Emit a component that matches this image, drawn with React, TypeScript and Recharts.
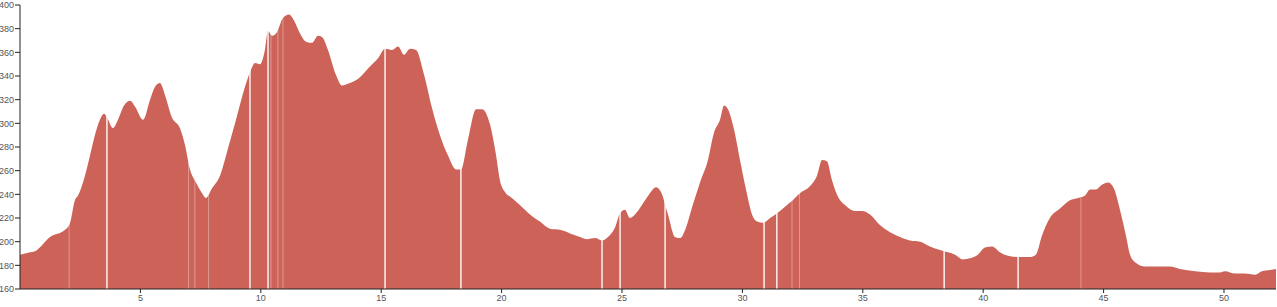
import { AreaChart, Area, XAxis, YAxis, ReferenceLine } from 'recharts';

// distance (km) and elevation (m)
const distance = [
  0, 0.42, 0.62, 1.25, 1.87, 2.08, 2.28, 2.41, 2.7, 2.91, 3.11, 3.32, 3.49, 3.61, 3.86, 4.07,
  4.32, 4.57, 4.78, 5.11, 5.4, 5.61, 5.81, 6.02, 6.31, 6.64, 6.85, 7.06, 7.31, 7.56, 7.72, 7.97,
  8.31, 8.64, 8.97, 9.3, 9.55, 9.76, 9.97, 10.17, 10.3, 10.47, 10.67, 10.92, 11.17, 11.38, 11.63,
  11.88, 12.13, 12.38, 12.54, 12.79, 13.12, 13.37, 13.7, 14.12, 14.53, 14.87, 15.16, 15.45, 15.7,
  15.95, 16.2, 16.45, 16.78, 17.11, 17.44, 17.77, 18.11, 18.31, 18.6, 18.94, 19.19, 19.52, 19.77,
  19.93, 20.14, 20.43, 20.76, 21.18, 21.59, 22.01, 22.43, 22.84, 23.26, 23.55, 23.88, 24.17, 24.42,
  24.71, 24.92, 25.12, 25.33, 25.58, 25.83, 26.16, 26.41, 26.62, 26.91, 27.2, 27.41, 27.66, 27.91,
  28.24, 28.57, 28.82, 29.07, 29.24, 29.4, 29.65, 29.9, 30.15, 30.4, 30.61, 30.86, 31.15, 31.56,
  31.98, 32.39, 32.81, 33.1, 33.31, 33.51, 33.72, 33.97, 34.26, 34.68, 34.97, 35.3, 35.71, 36.13,
  36.54, 36.96, 37.38, 37.79, 38.21, 38.54, 38.83, 39.16, 39.45, 39.78, 40.07, 40.37, 40.7, 41.03,
  41.45, 41.94, 42.19, 42.44, 42.77, 43.19, 43.6, 43.94, 44.23, 44.44, 44.68, 44.93, 45.18, 45.43,
  45.68, 45.93, 46.1, 46.35, 46.72, 47.34, 47.76, 48.17, 48.8, 49.42, 49.83, 50.04, 50.46, 50.87,
  51.29, 51.58, 51.91, 52.16,
];

const elevation = [
  189, 191, 192, 204, 210, 216, 235, 239, 256, 273, 290, 303, 308, 305, 296, 303,
  315, 319, 314, 303, 320, 331, 334, 324, 305, 296, 282, 261, 250, 241, 237, 245,
  256, 279, 303, 328, 343, 351, 350, 362, 378, 374, 377, 389, 392, 387, 376,
  369, 368, 374, 373, 362, 341, 332, 334, 339, 348, 355, 363, 362, 365,
  358, 363, 362, 341, 313, 290, 273, 261, 261, 286, 312, 312, 299, 273,
  252, 242, 237, 231, 223, 217, 211, 210, 207, 204, 202, 203, 201, 204,
  212, 224, 227, 220, 224, 231, 241, 246, 242, 223, 204, 203, 212, 229,
  250, 269, 292, 303, 315, 312, 295, 269, 244, 223, 217, 216, 220, 226,
  233, 241, 247, 256, 269, 268, 252, 238, 231, 226, 226, 223, 214, 208,
  204, 201, 200, 196, 193, 191, 189, 185, 186, 189, 195, 196, 191, 188,
  187, 187, 189, 205, 220, 228, 235, 237, 239, 244, 244, 248, 250, 245,
  227, 205, 189, 182, 179, 179, 179, 177, 175, 174, 174, 175, 173, 173,
  172, 175, 176, 177,
];

// segment breaks shown as thin white lines
const strongBreaks = [3.61, 9.55, 10.3, 15.16, 18.31, 24.17, 24.92, 26.79, 30.9, 31.43, 38.38, 41.45];
const faintBreaks = [2.04, 7.0, 7.26, 7.83, 10.42, 10.71, 10.92, 32.06, 32.37, 44.06];

const xTicks = [5, 10, 15, 20, 25, 30, 35, 40, 45, 50];
const yTicks = [160, 180, 200, 220, 240, 260, 280, 300, 320, 340, 360, 380, 400];

const data = distance.map((d, i) => ({ km: d, ele: elevation[i] }));

const tickStyle = { fontSize: 9, fill: '#555', fontFamily: 'Liberation Sans, Arial, sans-serif' };

export default function App() {
  return (
    <div style={{ position: 'absolute', left: 0, top: 0, background: '#fff' }}>
      <AreaChart width={1277} height={307} data={data} margin={{ top: 5, right: 1, left: 0, bottom: 0 }}>
        <XAxis
          dataKey="km"
          type="number"
          domain={[0, 52.16]}
          ticks={xTicks}
          height={18}
          tick={tickStyle}
          tickSize={4}
          stroke="#222"
          allowDataOverflow
        />
        <YAxis
          type="number"
          domain={[160, 400]}
          ticks={yTicks}
          width={20}
          tick={tickStyle}
          tickSize={5}
          tickMargin={1}
          stroke="#222"
          allowDataOverflow
        />
        <Area
          type="monotone"
          dataKey="ele"
          stroke="none"
          fill="#cd6358"
          fillOpacity={1}
          isAnimationActive={false}
        />
        {strongBreaks.map((x) => (
          <ReferenceLine key={`s${x}`} x={x} stroke="#ffffff" strokeOpacity={0.85} strokeWidth={1.6} />
        ))}
        {faintBreaks.map((x) => (
          <ReferenceLine key={`f${x}`} x={x} stroke="#ffffff" strokeOpacity={0.35} strokeWidth={1} />
        ))}
      </AreaChart>
    </div>
  );
}
